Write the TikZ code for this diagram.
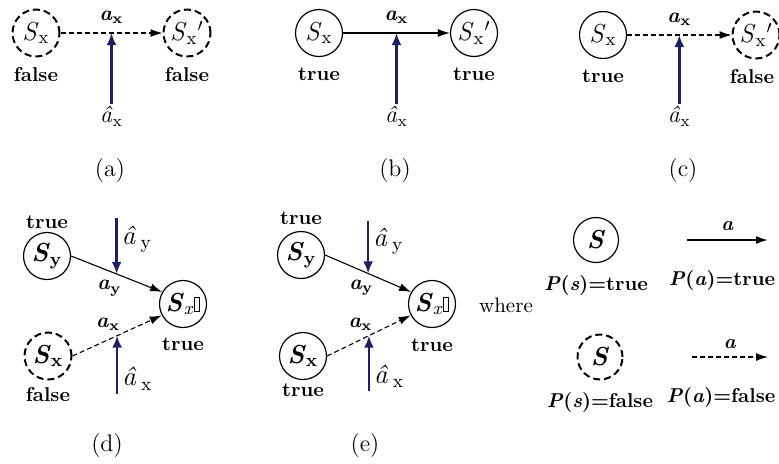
\documentclass[tikz,border=0pt]{standalone}
\usepackage{fontspec}
\usetikzlibrary{arrows.meta,calc,positioning}
\definecolor{hatBlue}{HTML}{1F1F66}
\newcommand{\stateS}[1]{\textit{S}\textsubscript{#1}}
\newcommand{\stateB}[1]{\textbf{\textit{S}\textsubscript{#1}}}
\newcommand{\actB}[1]{\textbf{\textit{a}\textsubscript{#1}}}
\newcommand{\actHat}[1]{\textit{\^a}\textsubscript{#1}}
\newcommand{\actHatB}[1]{\textit{\^a}\,\textsubscript{#1}}
\newcommand{\tofu}{{\setlength{\fboxsep}{0pt}\setlength{\fboxrule}{0.5pt}\fbox{\rule{0pt}{6.5pt}\kern2pt}}}
\tikzset{
  font=\fontsize{10.5}{12}\selectfont,
  state/.style={circle,draw=black,line width=0.6pt,minimum size=23.5pt,inner sep=0pt,
    font=\fontsize{13}{15}\selectfont},
  dstate/.style={state,line width=1pt,dash pattern=on 3.5pt off 2pt},
  tag/.style={font=\fontsize{10}{12}\selectfont\bfseries,inner sep=1pt},
  act/.style={-{Latex[length=6pt,width=4pt]},draw=black,line width=0.55pt},
  dact/.style={act,dash pattern=on 2.5pt off 1.5pt},
  hatarrow/.style={-{Latex[length=6pt,width=5pt]},draw=hatBlue,line width=1.2pt},
  hatlbl/.style={font=\fontsize{12}{14}\selectfont,inner sep=1pt},
  hatlblB/.style={font=\fontsize{13.5}{15}\selectfont,inner sep=1pt},
  panelcap/.style={font=\fontsize{12}{14}\selectfont},
}
\begin{document}
\begin{tikzpicture}[x=0.5pt,y=-0.5pt]
\useasboundingbox (0,0) rectangle (779,463);

% (a)
\node[dstate] (sa)  at (36,33)  {\stateS{x}};
\node[dstate] (spa) at (187,33) {\stateS{x}\textit{$'$}};
\node[tag,below=4pt of sa]  (sal)  {false};
\node[tag,below=4pt of spa] (spal) {false};
\draw[dact] (sa) -- node[above=1pt]{\actB{x}} coordinate[pos=.5] (ja) (spa);
\node[hatlbl,anchor=north] (ha) at ($(ja)+(0,71)$) {\actHat{x}};
\draw[hatarrow] (ha.north) -- (ja);
\node[panelcap] (capa) at (110,170) {(a)};

% (b)
\node[state] (sb)  at (319,33) {\stateS{x}};
\node[state] (spb) at (474,33) {\stateS{x}\textit{$'$}};
\node[tag,below=4pt of sb]  (sbl)  {true};
\node[tag,below=4pt of spb] (spbl) {true};
\draw[act] (sb) -- node[above=1pt]{\actB{x}} coordinate[pos=.5] (jb) (spb);
\node[hatlbl,anchor=north] (hb) at ($(jb)+(0,71)$) {\actHat{x}};
\draw[hatarrow] (hb.north) -- (jb);
\node[panelcap] (capb) at (395,170) {(b)};

% (c)
\node[state]  (sc)  at (603,35) {\stateS{x}};
\node[dstate] (spc) at (756,35) {\stateS{x}\textit{$'$}};
\node[tag,below=4pt of sc]  (scl)  {true};
\node[tag,below=4pt of spc,xshift=-2pt] (spcl) {false};
\draw[dact] (sc) -- node[above=1pt]{\actB{x}} coordinate[pos=.5] (jc) (spc);
\node[hatlbl,anchor=north] (hc) at ($(jc)+(0,69)$) {\actHat{x}};
\draw[hatarrow] (hc.north) -- (jc);
\node[panelcap] (capc) at (683,170) {(c)};

% (d)
\node[state]  (syd) at (47,256)  {\stateB{y}};
\node[state]  (tgd) at (183,304) {\textbf{\textit{S}}\textsubscript{\textit{x}}\tofu};
\node[dstate] (sxd) at (48,356)  {\stateB{x}};
\node[tag,above=0.5pt of syd] (sydl) {true};
\node[tag,below=3.5pt of tgd] (tgdl) {true};
\node[tag,below=2.5pt of sxd] (sxdl) {false};
\draw[act]  (syd.east) -- node[pos=.42,below=1pt]{\actB{y}} coordinate[pos=.5] (jyd) (tgd.150);
\draw[dact] (sxd.east) -- node[pos=.4,above=1pt]{\actB{x}} coordinate[pos=.5] (jxd) (tgd.208);
\coordinate (hyd) at ($(jyd)+(0,-56)$);
\coordinate (hxd) at ($(jxd)+(0,58)$);
\draw[hatarrow] (hyd) -- node[pos=.38,right=1pt,hatlblB]{\actHatB{y}} (jyd);
\draw[hatarrow] (hxd) -- node[pos=.26,right=1pt,hatlblB]{\actHatB{x}} (jxd);
\node[panelcap] (capd) at (107,445) {(d)};

% (e)
\node[state] (sye) at (301,255) {\stateB{y}};
\node[state] (tge) at (432,304) {\textbf{\textit{S}}\textsubscript{\textit{x}}\tofu};
\node[state] (sxe) at (303,356) {\stateB{x}};
\node[tag,above=2pt of sye]   (syel) {true};
\node[tag,below=4pt of tge]   (tgel) {true};
\node[tag,below=0.5pt of sxe] (sxel) {true};
\draw[act]  (sye.east) -- node[pos=.42,below=1pt]{\actB{y}} coordinate[pos=.5] (jye) (tge.150);
\draw[dact] (sxe.east) -- node[pos=.4,above=1pt]{\actB{x}} coordinate[pos=.5] (jxe) (tge.208);
\coordinate (hye) at ($(jye)+(0,-52)$);
\coordinate (hxe) at ($(jxe)+(0,55)$);
\draw[hatarrow] (hye) -- node[pos=.38,right=1pt,hatlblB]{\actHatB{y}} (jye);
\draw[hatarrow] (hxe) -- node[pos=.26,right=1pt,hatlblB]{\actHatB{x}} (jxe);
\node[panelcap] (cape) at (365,445) {(e)};

% legend
\node[font=\fontsize{10.5}{12}\selectfont] (where) at (506,305) {where};
\node[state,minimum size=22.5pt] (ls) at (596,240) {\textbf{\textit{S}}};
\node[tag,below=5pt of ls] (lsl) {\textit{P}(\textit{s})=true};
\coordinate (las) at (687,240);
\coordinate (lae) at (768,240);
\draw[act,line width=0.9pt] (las) -- node[tag,above=3pt]{\textit{a}} (lae);
\node[tag] (lal) at (722,280) {\textit{P}(\textit{a})=true};
\node[dstate,minimum size=22.5pt] (lsd) at (600,357) {\textbf{\textit{S}}};
\node[tag,below=5pt of lsd] (lsdl) {\textit{P}(\textit{s})=false};
\coordinate (lds) at (692,357);
\coordinate (lde) at (768,357);
\draw[dact] (lds) -- node[tag,above=3pt]{\textit{a}} (lde);
\node[tag] (ldl) at (721,397) {\textit{P}(\textit{a})=false};

\end{tikzpicture}
\end{document}
